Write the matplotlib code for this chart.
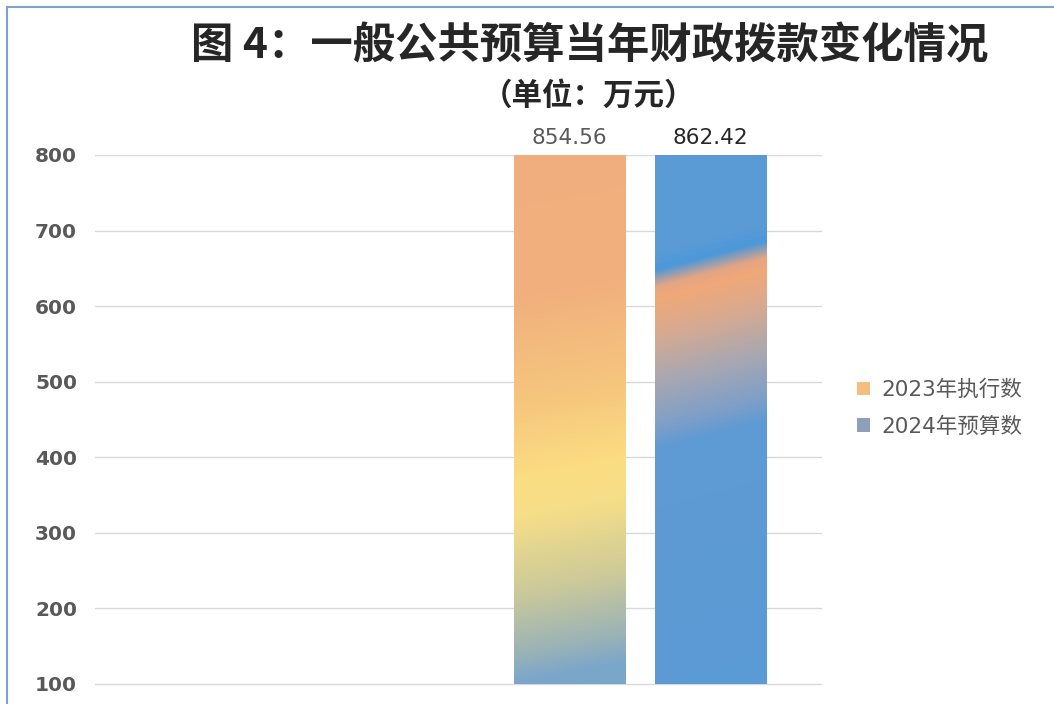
import numpy as np
import matplotlib.pyplot as plt
from matplotlib.colors import to_rgb
from matplotlib.lines import Line2D

# data
series = ["2023年执行数", "2024年预算数"]
values = [854.56, 862.42]
yticks = [100, 200, 300, 400, 500, 600, 700, 800]
base = 100

plt.rcParams['font.family'] = ['DejaVu Sans', 'Noto Sans CJK SC']

W, H = 1054, 704
fig = plt.figure(figsize=(W / 100, H / 100), dpi=100)
ax = fig.add_axes([95 / W, 0, (822 - 95) / W, (H - 155) / H])

x = np.arange(len(series))
width = 0.79
legend_cols = ["#F4BF7C", "#8E9FB9"]
bars = ax.bar(x, np.array(values) - base, bottom=base, width=width,
              color=legend_cols, label=series, zorder=2)

# gradient fills (t, color) stops, tilted by slope
grad_orange = [(100, "#7AA6CA"), (140, "#9BB3B6"), (220, "#CCCA99"), (320, "#F6DE88"),
               (370, "#FBDD82"), (470, "#F6C67D"), (610, "#F1B07D"), (850, "#F0AE7F")]
grad_blue = [(100, "#5B9BD5"), (410, "#5F9AD3"), (440, "#7E9FC8"), (500, "#A8A7B2"),
             (560, "#D6AA92"), (610, "#F0A878"), (626, "#E3A583"), (648, "#4C98DA"),
             (672, "#5B9BD5"), (850, "#5B9BD5")]
grads = [(grad_orange, 27), (grad_blue, 39)]


def grad_image(stops, slope, ny=400, nx=80):
    ys = np.linspace(800, base, ny)
    xf = np.linspace(0, 1, nx)
    T = ys[:, None] - slope * xf[None, :]
    ts = np.array([s[0] for s in stops], float)
    cs = np.array([to_rgb(s[1]) for s in stops])
    return np.stack([np.interp(T, ts, cs[:, k]) for k in range(3)], axis=-1)


for bar, (stops, slope) in zip(bars, grads):
    x0 = bar.get_x()
    im = ax.imshow(grad_image(stops, slope), extent=[x0, x0 + bar.get_width(), base, 800],
                   aspect='auto', origin='upper', interpolation='bilinear', zorder=3)
    im.set_clip_path(bar)

# value labels
label_cols = ["#595959", "#262626"]
for xi, v, c in zip(x, values, label_cols):
    ax.annotate(f"{v:.2f}", xy=(xi, 800), xytext=(0, 5), textcoords='offset points',
                ha='center', va='bottom', fontsize=15.5, color=c, annotation_clip=False)

ax.set_xlim(-3.36, 1.79)
ax.set_ylim(73.5, 800)
ax.set_yticks(yticks)
ax.set_xticks([])
ax.yaxis.grid(True, color='#D9D9D9', lw=1)
ax.set_axisbelow(True)
ax.tick_params(axis='y', length=0, pad=13, labelsize=14.5, labelcolor='#595959')
for lab in ax.get_yticklabels():
    lab.set_fontweight('bold')
for s in ax.spines.values():
    s.set_visible(False)

fig.legend(handles=list(bars), labels=series, loc='center left',
           bbox_to_anchor=(838 / W, 1 - 408 / H), frameon=False, fontsize=15.5,
           handlelength=0.6, handleheight=0.6, handletextpad=0.5, labelspacing=0.75,
           labelcolor='#595959')

fig.text(590 / W, 1 - 46 / H, "图 4：一般公共预算当年财政拨款变化情况", ha='center', va='center',
         fontsize=30.5, fontweight='bold', color='#262626', family=['Noto Sans CJK SC'])
fig.text(588 / W, 1 - 96 / H, "（单位：万元）", ha='center', va='center',
         fontsize=22, fontweight='bold', color='#262626', family=['Noto Sans CJK SC'])

# frame lines
fig.add_artist(Line2D([7 / W, 7 / W], [0, 1 - 7 / H], transform=fig.transFigure,
                      color='#7FA3CE', lw=1.5))
fig.add_artist(Line2D([7 / W, 1], [1 - 7 / H, 1 - 7 / H], transform=fig.transFigure,
                      color='#7FA3CE', lw=1.5))

fig.savefig("out.png", dpi=100)
